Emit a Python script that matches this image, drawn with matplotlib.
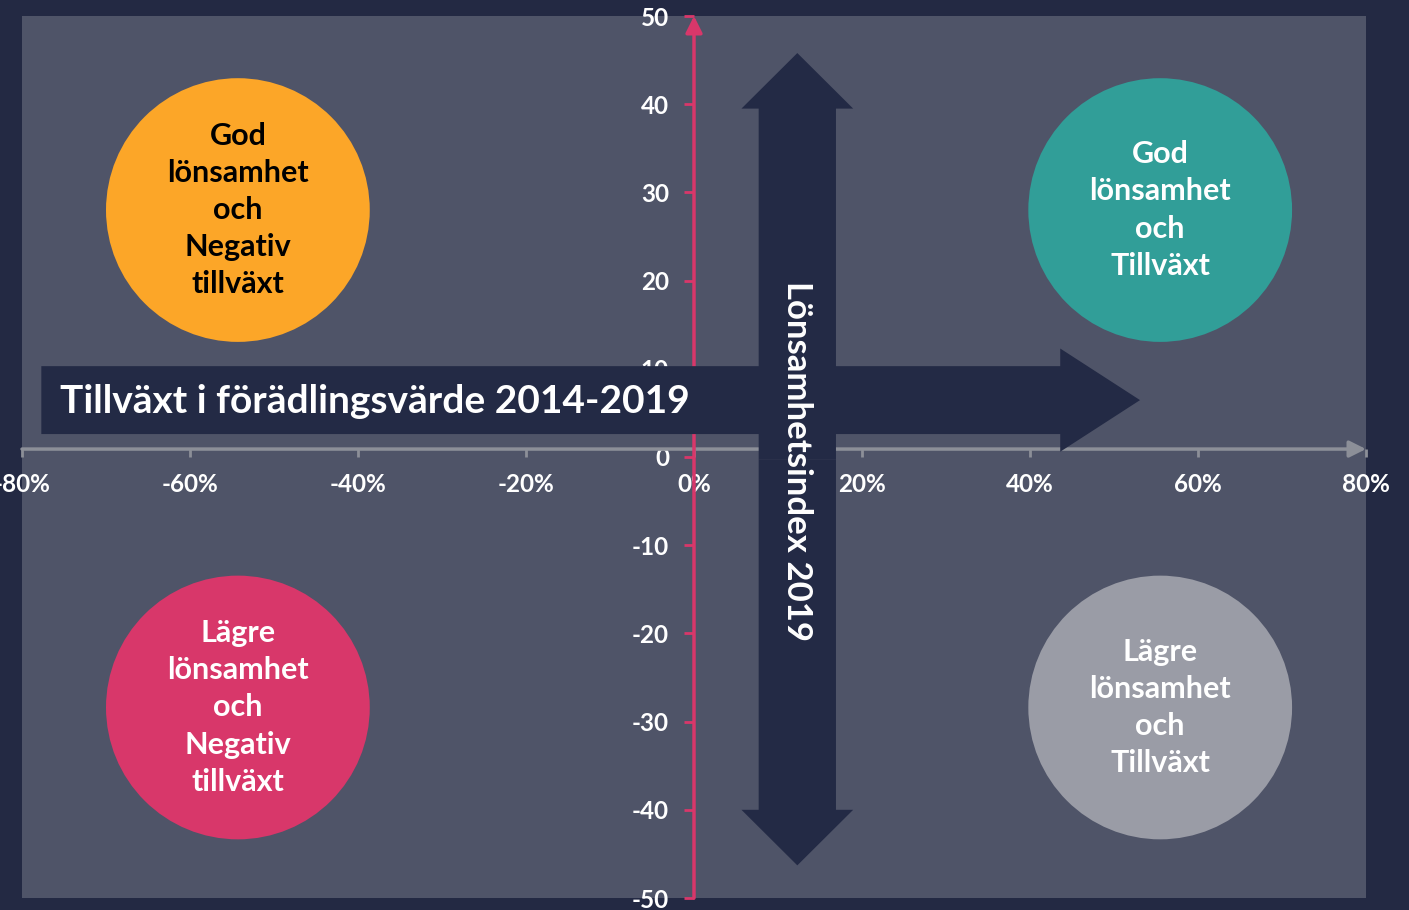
import matplotlib
matplotlib.use("Agg")
import matplotlib.pyplot as plt
from matplotlib.patches import Ellipse, FancyArrow
from matplotlib.ticker import FuncFormatter

plt.rcParams['font.family'] = ['Lato', 'DejaVu Sans']
plt.rcParams['axes.unicode_minus'] = False

# axis ticks
x_ticks = [-80, -60, -40, -20, 0, 20, 40, 60, 80]
y_ticks = [-50, -40, -30, -20, -10, 0, 10, 20, 30, 40, 50]

# quadrant circles
quad_labels = ["God\nlönsamhet\noch\nNegativ\ntillväxt",
               "God\nlönsamhet\noch\nTillväxt",
               "Lägre\nlönsamhet\noch\nNegativ\ntillväxt",
               "Lägre\nlönsamhet\noch\nTillväxt"]
quad_x = [-54.3, 55.5, -54.3, 55.5]
quad_y = [28.0, 28.0, -28.4, -28.4]
quad_colors = ["#FCA628", "#319E98", "#D8376A", "#9A9CA6"]
quad_text_colors = ["black", "white", "white", "white"]

x_label = "Tillväxt i förädlingsvärde 2014-2019"
y_label = "Lönsamhetsindex 2019"

BG = "#232943"
PLOT_BG = "#4F5468"
ARROW = "#232A45"
RED = "#D8376A"
GREY = "#8C8F98"

fig = plt.figure(figsize=(14.09, 9.10), dpi=100, facecolor=BG)
ax = fig.add_axes([22 / 1409, 12 / 910, 1344 / 1409, 882 / 910])
ax.set_facecolor(PLOT_BG)
ax.set_xlim(-80, 80)
ax.set_ylim(-50, 50)

for s in ax.spines.values():
    s.set_visible(False)
ax.spines['left'].set_position(('data', 0))
ax.spines['bottom'].set_position(('data', 0.9))

ax.set_xticks(x_ticks)
ax.set_yticks(y_ticks)
ax.xaxis.set_major_formatter(FuncFormatter(lambda v, p: f"{v:.0f}%"))
ax.tick_params(axis='x', colors=GREY, direction='out', length=6, width=2,
               labelcolor='white', labelsize=17.5, pad=11)
ax.tick_params(axis='y', colors=RED, direction='out', length=7, width=2,
               labelcolor='white', labelsize=17.5, pad=11)
for lab in ax.get_xticklabels() + ax.get_yticklabels():
    lab.set_fontweight('bold')

# axis lines with arrowheads
ax.annotate('', xy=(80, 0.9), xytext=(-80, 0.9),
            arrowprops=dict(arrowstyle='-|>', color=GREY, lw=2.5,
                            mutation_scale=25, shrinkA=0, shrinkB=0),
            zorder=2)
ax.annotate('', xy=(0, 50), xytext=(0, -50),
            arrowprops=dict(arrowstyle='-|>', color=RED, lw=2.5,
                            mutation_scale=25, shrinkA=0, shrinkB=0),
            zorder=2)

# horizontal arrow with label
ax.add_patch(FancyArrow(-77.7, 6.45, 130.8, 0, width=7.7, head_width=11.7,
                        head_length=9.5, length_includes_head=True,
                        color=ARROW, lw=0, zorder=4))
ax.text(-75.5, 6.3, x_label, color='white', fontsize=28, fontweight='bold',
        ha='left', va='center', zorder=6)

# vertical double arrow with label
for tip in (45.8, -46.3):
    ax.add_patch(FancyArrow(12.3, -0.25, 0, tip + 0.25, width=9.2,
                            head_width=13.3, head_length=6.3,
                            length_includes_head=True, color=ARROW, lw=0,
                            zorder=5))
ax.text(12.3, -0.5, y_label, color='white', fontsize=25, fontweight='bold',
        rotation=270, ha='center', va='center', zorder=6)

# quadrant circles
for lab, cx, cy, col, tcol in zip(quad_labels, quad_x, quad_y, quad_colors,
                                   quad_text_colors):
    ax.add_patch(Ellipse((cx, cy), 31.4, 29.9, color=col, lw=0, zorder=5))
    ax.text(cx, cy, lab, color=tcol, fontsize=22, fontweight='bold',
            ha='center', va='center', linespacing=1.4, zorder=6)

fig.savefig("out.png", dpi=100, facecolor=BG)
